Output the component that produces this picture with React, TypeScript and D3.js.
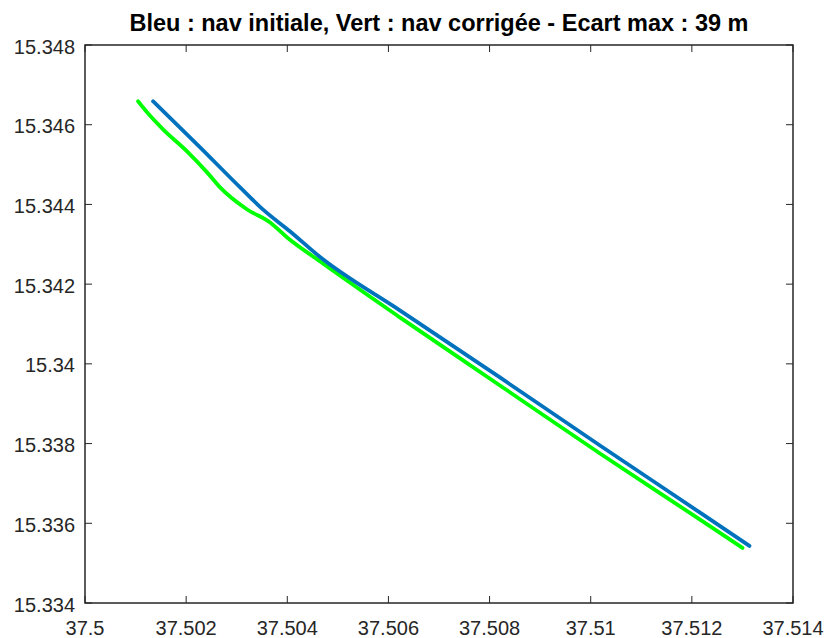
import * as d3 from "d3";
import React from "react";

const W = 826;
const H = 638;
const margin = { top: 45, right: 33, bottom: 35, left: 85 };

const title = "Bleu : nav initiale, Vert : nav corrigée - Ecart max : 39 m";

const xTicks = [37.5, 37.502, 37.504, 37.506, 37.508, 37.51, 37.512, 37.514];
const yTicks = [15.334, 15.336, 15.338, 15.34, 15.342, 15.344, 15.346, 15.348];

// nav initiale (blue)
const blueLon = [37.501346, 37.502276, 37.503067, 37.503562, 37.504057, 37.504611, 37.506233, 37.508212, 37.510191, 37.51217, 37.513139];
const blueLat = [15.346588, 15.345432, 15.344427, 15.343824, 15.343322, 15.342719, 15.341337, 15.339653, 15.337945, 15.336261, 15.335432];

// nav corrigée (green)
const greenLon = [37.501049, 37.501227, 37.501543, 37.502018, 37.502414, 37.502671, 37.503206, 37.503661, 37.503997, 37.50465, 37.506233, 37.508212, 37.510191, 37.51217, 37.513001];
const greenLat = [15.346588, 15.346312, 15.345885, 15.345332, 15.344804, 15.344427, 15.343874, 15.343548, 15.343171, 15.342568, 15.341161, 15.339452, 15.337744, 15.336086, 15.335382];

const axisColor = "#262626";
const font = "'Liberation Sans', Arial, sans-serif";

export default function App() {
  React.useEffect(() => {
    document.body.style.margin = "0";
  }, []);

  const x = d3.scaleLinear().domain([37.5, 37.514]).range([margin.left, W - margin.right]);
  const y = d3.scaleLinear().domain([15.334, 15.348]).range([H - margin.bottom, margin.top]);

  const line = d3
    .line<[number, number]>()
    .x((d) => x(d[0]))
    .y((d) => y(d[1]))
    .curve(d3.curveMonotoneX);

  const blue = blueLon.map((v, i) => [v, blueLat[i]] as [number, number]);
  const green = greenLon.map((v, i) => [v, greenLat[i]] as [number, number]);

  const fmt = (v: number) => String(+v.toFixed(3));
  const x0 = margin.left, x1 = W - margin.right;
  const y0 = margin.top, y1 = H - margin.bottom;
  const tl = 7;

  return (
    <svg width={W} height={H} style={{ display: "block" }} fontFamily={font}>
      <rect width={W} height={H} fill="white" />
      <text x={(x0 + x1) / 2} y={31} textAnchor="middle" fontSize={23.5} fontWeight="bold" fill="black">
        {title}
      </text>
      {/* lines */}
      <path d={line(green) || ""} fill="none" stroke="#00FF00" strokeWidth={3.8} strokeLinejoin="round" strokeLinecap="round" />
      <path d={line(blue) || ""} fill="none" stroke="#0072BD" strokeWidth={3.8} strokeLinejoin="round" strokeLinecap="round" />
      {/* box */}
      <rect x={x0} y={y0} width={x1 - x0} height={y1 - y0} fill="none" stroke={axisColor} strokeWidth={1.5} />
      {xTicks.map((t) => (
        <g key={"x" + t}>
          <line x1={x(t)} x2={x(t)} y1={y1} y2={y1 - tl} stroke={axisColor} strokeWidth={1} />
          <line x1={x(t)} x2={x(t)} y1={y0} y2={y0 + tl} stroke={axisColor} strokeWidth={1} />
          <text x={x(t)} y={y1 + 32} textAnchor="middle" fontSize={20} fill={axisColor}>
            {fmt(t)}
          </text>
        </g>
      ))}
      {yTicks.map((t) => (
        <g key={"y" + t}>
          <line x1={x0} x2={x0 + tl} y1={y(t)} y2={y(t)} stroke={axisColor} strokeWidth={1} />
          <line x1={x1} x2={x1 - tl} y1={y(t)} y2={y(t)} stroke={axisColor} strokeWidth={1} />
          <text x={x0 - 10} y={y(t) + 8.5} textAnchor="end" fontSize={20} fill={axisColor}>
            {fmt(t)}
          </text>
        </g>
      ))}
    </svg>
  );
}
